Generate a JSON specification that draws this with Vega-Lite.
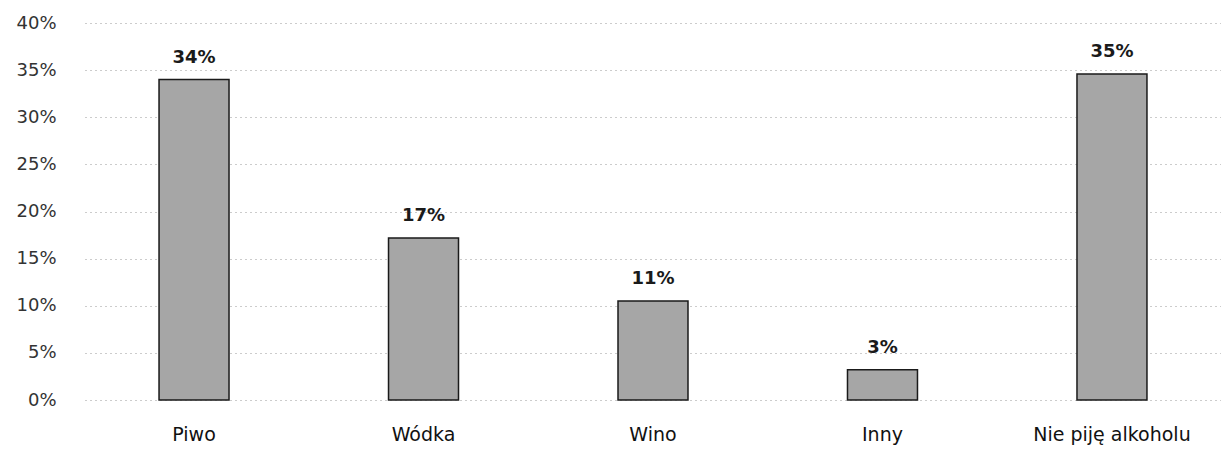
{
  "$schema": "https://vega.github.io/schema/vega-lite/v6.json",
  "autosize": "none",
  "width": 1136,
  "height": 377,
  "padding": {"left": 85, "top": 23, "right": 0, "bottom": 49},
  "background": "white",
  "config": {"view": {"stroke": null}, "font": "DejaVu Sans"},
  "data": {"values": [
    {"kat": "Piwo", "v": 34.0, "lab": "34%"},
    {"kat": "Wódka", "v": 17.2, "lab": "17%"},
    {"kat": "Wino", "v": 10.5, "lab": "11%"},
    {"kat": "Inny", "v": 3.2, "lab": "3%"},
    {"kat": "Nie piję alkoholu", "v": 34.6, "lab": "35%"}
  ]},
  "encoding": {
    "x": {"field": "kat", "type": "nominal", "sort": null,
      "scale": {"paddingInner": 0.695, "paddingOuter": 0.3226},
      "axis": {"title": null, "labelAngle": 0, "domain": false, "ticks": false, "labelFontSize": 19, "labelColor": "#111", "labelPadding": 25, "labelFont": "DejaVu Sans"}},
    "y": {"field": "v", "type": "quantitative",
      "scale": {"domain": [0, 40]},
      "axis": {"title": null, "labelExpr": "datum.value + '%'", "values": [0, 5, 10, 15, 20, 25, 30, 35, 40], "labelOverlap": false, "domain": false, "ticks": false, "labelFontSize": 18, "labelColor": "#333", "labelPadding": 29, "grid": true, "gridColor": "#999", "gridDash": [1, 4], "gridWidth": 1, "labelFont": "DejaVu Sans"}}
  },
  "layer": [
    {"mark": {"type": "bar", "fill": "#a6a6a6", "stroke": "#1a1a1a", "strokeWidth": 1.5}},
    {"mark": {"type": "text", "dy": -22, "fontSize": 18, "fontWeight": "bold", "color": "#1a1a1a", "font": "DejaVu Sans"},
     "encoding": {"text": {"field": "lab"}}}
  ]
}
